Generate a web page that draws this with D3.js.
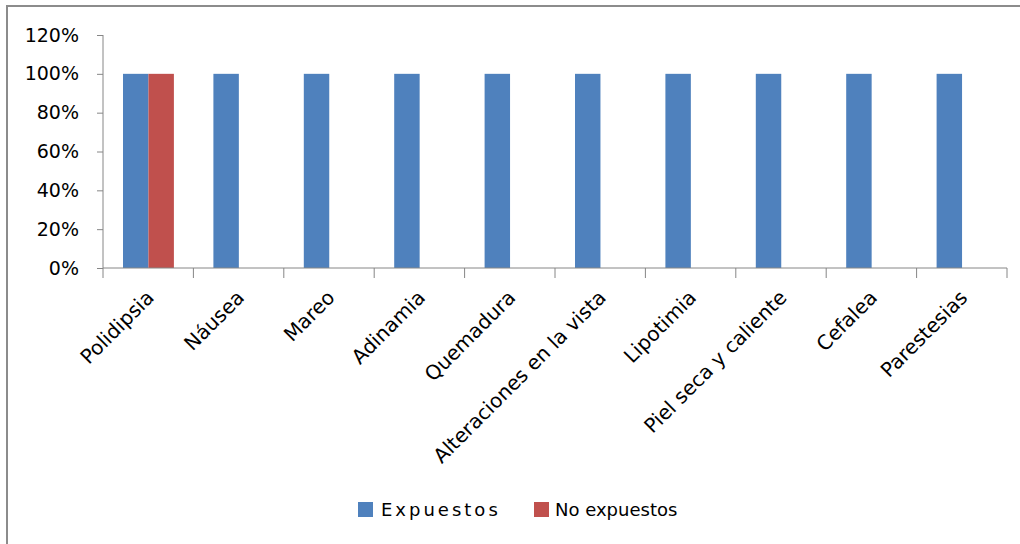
<html>
<head>
  <meta charset="utf-8">
  <script src="https://cdn.jsdelivr.net/npm/d3@7"></script>
  <style>
    body { margin: 0; background: #fff; }
    text { font-family: "DejaVu Sans", sans-serif; fill: #000; }
  </style>
</head>
<body>
<script>
  var categories = ["Polidipsia", "Náusea", "Mareo", "Adinamia", "Quemadura",
    "Alteraciones en la vista", "Lipotimia", "Piel seca y caliente", "Cefalea", "Parestesias"];
  var expuestos = [100, 100, 100, 100, 100, 100, 100, 100, 100, 100];
  var noExpuestos = [100, 0, 0, 0, 0, 0, 0, 0, 0, 0];
  var seriesNames = ["Expuestos", "No expuestos"];
  var seriesColors = ["#4F81BD", "#C0504D"];
  var yTicks = [0, 20, 40, 60, 80, 100, 120];

  var svg = d3.select("body").append("svg").attr("width", 1020).attr("height", 544);

  // chart frame (extends past right/bottom edge like the original)
  svg.append("rect").attr("x", 7).attr("y", 6).attr("width", 1030).attr("height", 560)
    .attr("fill", "none").attr("stroke", "#8c8c8c").attr("stroke-width", 2);

  var plotLeft = 103, plotRight = 1007, plotTop = 35, plotBottom = 268;
  var x = d3.scaleBand().domain(categories).range([plotLeft, plotRight]).paddingInner(0).paddingOuter(0);
  var sub = d3.scaleBand().domain(seriesNames).range([20, x.bandwidth() - 19.5]);
  var y = d3.scaleLinear().domain([0, 120]).range([plotBottom, plotTop]);

  var rows = categories.map(function (c, i) {
    return { cat: c, vals: [expuestos[i], noExpuestos[i]] };
  });

  var g = svg.selectAll("g.cat").data(rows).enter().append("g")
    .attr("transform", function (d) { return "translate(" + x(d.cat) + ",0)"; });
  g.selectAll("rect").data(function (d) {
    return d.vals.map(function (v, j) { return { s: seriesNames[j], v: v, c: seriesColors[j] }; });
  }).enter().append("rect")
    .filter(function (d) { return d.v > 0; })
    .attr("x", function (d) { return sub(d.s); })
    .attr("width", sub.bandwidth())
    .attr("y", function (d) { return y(d.v); })
    .attr("height", function (d) { return plotBottom - y(d.v); })
    .attr("fill", function (d) { return d.c; });

  // y axis
  var yAxis = svg.append("g").attr("transform", "translate(" + plotLeft + ",0)")
    .call(d3.axisLeft(y).tickValues(yTicks).tickSize(6).tickPadding(18)
      .tickFormat(function (d) { return d + "%"; }));
  yAxis.select(".domain").remove();
  yAxis.append("line").attr("y1", y(120)).attr("y2", y(0)).attr("stroke", "#868686");
  yAxis.selectAll("line").attr("stroke", "#868686");
  yAxis.selectAll("text").attr("font-size", 19).attr("font-family", "DejaVu Sans").attr("fill", "#000");

  // x axis: ticks at category boundaries
  svg.append("line").attr("x1", plotLeft).attr("x2", plotRight).attr("y1", plotBottom).attr("y2", plotBottom)
    .attr("stroke", "#868686");
  var bounds = categories.map(function (c) { return x(c); }).concat([plotRight]);
  svg.selectAll("line.xt").data(bounds).enter().append("line")
    .attr("x1", function (d) { return d; }).attr("x2", function (d) { return d; })
    .attr("y1", plotBottom).attr("y2", plotBottom + 10).attr("stroke", "#868686");

  svg.selectAll("text.xl").data(categories).enter().append("text")
    .attr("transform", function (d) {
      return "translate(" + (x(d) + x.bandwidth() / 2 - 3) + "," + (plotBottom + 21) + ") rotate(-45)";
    })
    .attr("text-anchor", "end").attr("dy", "0.7em")
    .attr("font-size", 20)
    .text(function (d) { return d; });

  // legend
  var legX = [358, 534], legTextX = [381, 555];
  seriesNames.forEach(function (s, i) {
    svg.append("rect").attr("x", legX[i]).attr("y", 502).attr("width", 15).attr("height", 15)
      .attr("fill", seriesColors[i]);
    svg.append("text").attr("x", legTextX[i]).attr("y", 516).attr("font-size", 18)
      .attr("letter-spacing", i === 0 ? 3 : 0).text(s);
  });
</script>
</body>
</html>
